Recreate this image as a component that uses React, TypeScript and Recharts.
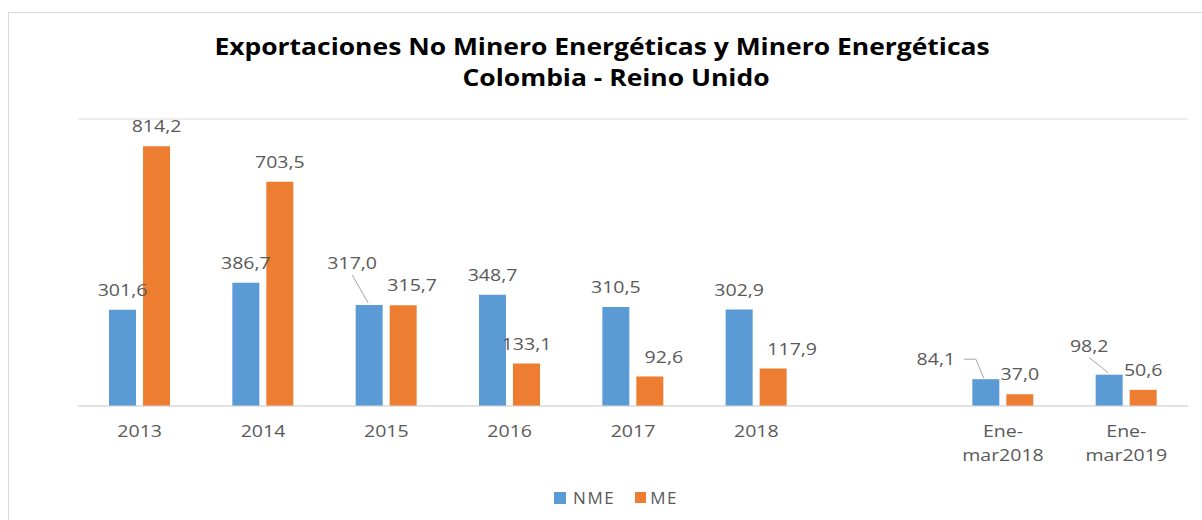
import React from "react";
import { BarChart, Bar, XAxis, YAxis, CartesianGrid, LabelList, Legend } from "recharts";

const categories = ["2013", "2014", "2015", "2016", "2017", "2018", "", "Ene-mar2018", "Ene-mar2019"];
const nmeValues = [301.6, 386.7, 317.0, 348.7, 310.5, 302.9, null, 84.1, 98.2];
const meValues = [814.2, 703.5, 315.7, 133.1, 92.6, 117.9, null, 37.0, 50.6];
const yTicks = [0, 100, 200, 300, 400, 500, 600, 700, 800, 900];

const data = categories.map((name, i) => ({ name, NME: nmeValues[i], ME: meValues[i] }));

// hand-moved labels in the original (dx, dy in px) and their leader lines
const nmeShift = [[0, 0], [0, 0], [-17, -22], [0, 0], [0, 0], [0, 0], [0, 0], [-50, 0], [-20, -9]];
const meShift = [[0, 0], [0, 0], [9, 0], [0, 0], [14, 0], [19, 0], [0, 0], [0, 0], [0, 0]];
const nmeLeader = [null, null, "diag", null, null, null, null, "elbow", "diag"];

const BLUE = "#5b9bd5";
const ORANGE = "#ed7d31";
const TEXT = "#595959";
const FONT = "'Open Sans', sans-serif";
const STRETCH = 1.15; // the source picture is stretched sideways

const fmt = (v: number) => v.toFixed(1).replace(".", ",");

// LabelList skips empty bars, so map its index back to the category index
const presentIdx = (vals: (number | null)[]) =>
  vals.map((v, i) => (v == null ? -1 : i)).filter((i) => i >= 0);

const makeLabel = (vals: (number | null)[], shift: number[][], leader?: (string | null)[]) => {
  const idx = presentIdx(vals);
  return (props: any) => {
    const vb = props.viewBox || {};
    const x = Number(props.x ?? vb.x);
    const y = Number(props.y ?? vb.y);
    const w = Number(props.width ?? vb.width);
    const { value } = props;
    if (value == null) return null;
    const i = idx[props.index] ?? props.index;
    const bx = x + w / 2;
    const [dx, dy] = shift[i] || [0, 0];
    const cx = bx + dx;
    const cy = y - 20 + dy;
    const kind = leader ? leader[i] : null;
    let line = null;
    if (kind === "diag") {
      line = <polyline points={`${cx},${cy + 12} ${bx - 1},${y - 2}`} fill="none" stroke="#a6a6a6" strokeWidth={1} />;
    } else if (kind === "elbow") {
      line = (
        <polyline
          points={`${cx + 28},${cy} ${cx + 40},${cy} ${bx - 2},${y - 1}`}
          fill="none"
          stroke="#a6a6a6"
          strokeWidth={1}
        />
      );
    }
    return (
      <g>
        {line}
        <text
          transform={`translate(${cx},${cy}) scale(${STRETCH},1)`}
          dy="0.36em"
          textAnchor="middle"
          fill={TEXT}
          fontSize={17}
          fontFamily={FONT}
        >
          {fmt(Number(value))}
        </text>
      </g>
    );
  };
};

const CategoryTick = (props: any) => {
  const { x, y, payload } = props;
  const s = String(payload.value);
  const lines = s.startsWith("Ene-") ? ["Ene-", s.slice(4)] : [s];
  return (
    <text
      transform={`translate(${x},${y}) scale(${STRETCH},1)`}
      textAnchor="middle"
      fill={TEXT}
      fontSize={17}
      fontFamily={FONT}
    >
      {lines.map((l, i) => (
        <tspan key={i} x={0} dy={i === 0 ? 23 : 24}>
          {l}
        </tspan>
      ))}
    </text>
  );
};

const LegendContent = () => (
  <div style={{ display: "flex", justifyContent: "center", alignItems: "center", fontFamily: FONT, fontSize: 17, color: TEXT }}>
    <span style={{ width: 12, height: 12, background: BLUE, display: "inline-block", marginRight: 7 }} />
    <span style={{ letterSpacing: 1.5 }}>NME</span>
    <span style={{ width: 11, height: 11, background: ORANGE, display: "inline-block", marginLeft: 20, marginRight: 4 }} />
    <span style={{ letterSpacing: 1.5 }}>ME</span>
  </div>
);

const titleStyle: React.CSSProperties = {
  position: "absolute",
  whiteSpace: "nowrap",
  fontFamily: FONT,
  fontWeight: 700,
  fontSize: 23,
  lineHeight: "30px",
  color: "#000",
  transform: `translateX(-50%) scaleX(${STRETCH})`,
};

export default function App() {
  return (
    <div style={{ position: "relative", width: 1202, height: 520, overflow: "hidden", background: "#fff" }}>
      <style>{"body{margin:0}"}</style>
      <div
        style={{
          position: "absolute",
          left: 8,
          top: 12,
          width: 1300,
          height: 600,
          borderLeft: "1px solid #d9d9d9",
          borderTop: "1px solid #d9d9d9",
        }}
      />
      <div style={{ ...titleStyle, left: 602, top: 31 }}>Exportaciones No Minero Energéticas y Minero Energéticas</div>
      <div style={{ ...titleStyle, left: 616, top: 62 }}>Colombia - Reino Unido</div>
      <div style={{ position: "absolute", left: 0, top: 0 }}>
        <BarChart
          width={1202}
          height={520}
          data={data}
          margin={{ top: 119, right: 14, left: 78, bottom: 54 }}
          barGap={7}
          barSize={27}
        >
          <CartesianGrid vertical={false} stroke="#d9d9d9" />
          <XAxis
            dataKey="name"
            height={60}
            axisLine={{ stroke: "#d9d9d9" }}
            tickLine={false}
            interval={0}
            tick={<CategoryTick />}
          />
          <YAxis
            width={0}
            domain={[0, 900]}
            ticks={yTicks}
            axisLine={false}
            tickLine={false}
            tick={false}
            label={{
              content: () => (
                <text
                  x={60}
                  y={252}
                  transform="rotate(-90 60 252)"
                  textAnchor="middle"
                  dy="0.36em"
                  fill={TEXT}
                  fontSize={17}
                  fontFamily={FONT}
                >
                  USD millones
                </text>
              ),
            }}
          />
          <Legend
            verticalAlign="middle"
            layout="horizontal"
            align="center"
            content={<LegendContent />}
            wrapperStyle={{ top: 486, left: 15, width: 1202 }}
          />
          <Bar dataKey="NME" fill={BLUE} isAnimationActive={false}>
            <LabelList dataKey="NME" content={makeLabel(nmeValues, nmeShift, nmeLeader)} />
          </Bar>
          <Bar dataKey="ME" fill={ORANGE} isAnimationActive={false}>
            <LabelList dataKey="ME" content={makeLabel(meValues, meShift)} />
          </Bar>
        </BarChart>
      </div>
    </div>
  );
}
